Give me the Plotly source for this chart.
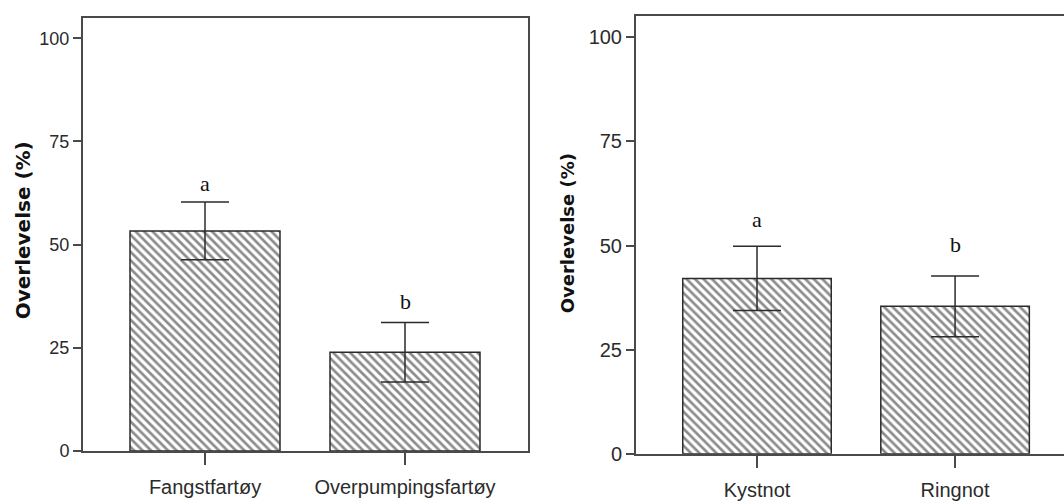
import plotly.graph_objects as go

# ---- data ----
left_categories = ["Fangstfartøy", "Overpumpingsfartøy"]
left_means = [53.3, 23.9]
left_errors = [7.0, 7.2]
left_letters = ["a", "b"]
left_letter_y = [64.7, 36.2]

right_categories = ["Kystnot", "Ringnot"]
right_means = [42.1, 35.4]
right_errors = [7.7, 7.3]
right_letters = ["a", "b"]
right_letter_y = [56.2, 50.3]

y_ticks = [0, 25, 50, 75, 100]
y_title = "Overlevelse (%)"

W, H = 1064, 502
LINE = "#4a4a4a"
INK = "#2b2b2b"


def bar_trace(cats, vals, errs, xa, ya):
    return go.Bar(
        x=cats, y=vals, xaxis=xa, yaxis=ya, width=0.75,
        marker=dict(
            color="white",
            line=dict(color=INK, width=1.5),
            pattern=dict(shape="\\", size=6, solidity=0.45,
                         fgcolor="#1a1a1a", bgcolor="white"),
        ),
        error_y=dict(type="data", array=errs, visible=True,
                     color=INK, thickness=1.5, width=24),
        showlegend=False, hoverinfo="skip",
    )


fig = go.Figure()
fig.add_trace(bar_trace(left_categories, left_means, left_errors, "x", "y"))
fig.add_trace(bar_trace(right_categories, right_means, right_errors, "x2", "y2"))

annotations = []
for c, t, yv in zip(left_categories, left_letters, left_letter_y):
    annotations.append(dict(x=c, y=yv, xref="x", yref="y", text=t, showarrow=False,
                            font=dict(family="Liberation Serif", size=22, color="#111")))
for c, t, yv in zip(right_categories, right_letters, right_letter_y):
    annotations.append(dict(x=c, y=yv, xref="x2", yref="y2", text=t, showarrow=False,
                            font=dict(family="Liberation Serif", size=22, color="#111")))

annotations.append(dict(x=23 / W, y=(H - 235.5) / H, xref="paper", yref="paper",
                        text="<b>" + y_title + "</b>", textangle=-90, showarrow=False,
                        xanchor="center", yanchor="middle",
                        font=dict(family="DejaVu Sans", size=20, color="#111")))
annotations.append(dict(x=567.5 / W, y=(H - 239) / H, xref="paper", yref="paper",
                        text="<b>" + y_title + "</b>", textangle=-90, showarrow=False,
                        xanchor="center", yanchor="middle",
                        font=dict(family="DejaVu Sans", size=18, color="#111")))

xcommon = dict(type="category", showline=True, linecolor=LINE, linewidth=2,
               ticks="outside", ticklen=12, tickwidth=2, tickcolor=LINE,
               showgrid=False, zeroline=False, ticklabelstandoff=5,
               tickfont=dict(family="Liberation Sans", size=20, color=INK))
ycommon = dict(range=[0, 105], tickvals=y_ticks, showline=True, linecolor=LINE, linewidth=2,
               ticks="outside", ticklen=8, tickwidth=2, tickcolor=LINE,
               showgrid=False, zeroline=False)

fig.update_layout(
    width=W, height=H, margin=dict(l=0, r=0, t=0, b=0),
    paper_bgcolor="white", plot_bgcolor="white",
    xaxis=dict(xcommon, domain=[83 / W, 528 / W], range=[-0.61, 1.615],
               anchor="y", mirror=True),
    yaxis=dict(ycommon, domain=[(H - 461) / H, (H - 18) / H], anchor="x", mirror=True,
               tickfont=dict(family="Liberation Sans", size=18, color=INK)),
    xaxis2=dict(xcommon, domain=[636 / W, 1.0], range=[-0.611, 1.55],
                anchor="y2", mirror=True),
    yaxis2=dict(ycommon, domain=[(H - 464) / H, (H - 16.7) / H], anchor="x2", mirror=False,
                tickfont=dict(family="Liberation Sans", size=20, color=INK)),
    annotations=annotations,
)

fig.write_html("out.html")
